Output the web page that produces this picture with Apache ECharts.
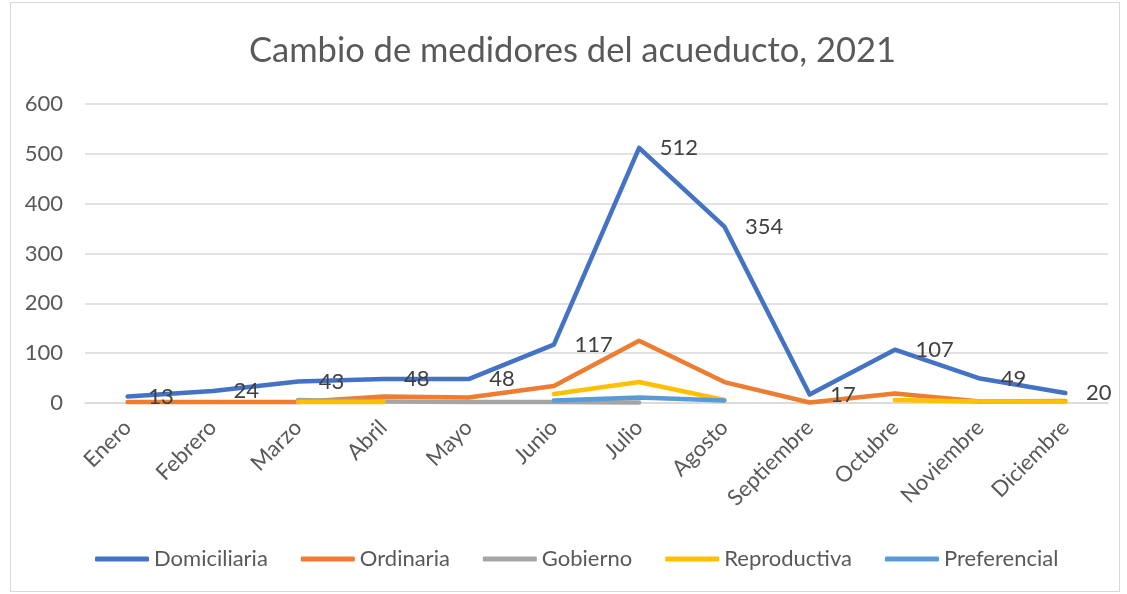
<!DOCTYPE html>
<html>
<head>
<meta charset="utf-8">
<script src="https://cdn.jsdelivr.net/npm/echarts@6/dist/echarts.min.js"></script>
<style>
  html, body { margin: 0; padding: 0; background: #fff; }
  #frame { position: absolute; left: 10px; top: 2px; width: 1110px; height: 590px; border: 1px solid #d9d9d9; box-sizing: border-box; }
  #chart { position: absolute; left: 0; top: 0; width: 1127px; height: 594px; }
</style>
</head>
<body>
<div id="frame"></div>
<div id="chart"></div>
<script>
// Meses del año
const meses = ['Enero', 'Febrero', 'Marzo', 'Abril', 'Mayo', 'Junio', 'Julio', 'Agosto', 'Septiembre', 'Octubre', 'Noviembre', 'Diciembre'];

// Medidores cambiados por tipo de servicio (null = sin registro)
const domiciliaria = [13, 24, 43, 48, 48, 117, 512, 354, 17, 107, 49, 20];
const ordinaria    = [2, 2, 2, 13, 11, 34, 125, 42, 1, 19, 3, 4];
const gobierno     = [null, null, 6, 3, 2, 2, 1, null, null, null, null, null];
const reproductiva = [null, null, 2, 2, null, 18, 42, 6, null, 6, 3, 3];
const preferencial = [null, null, null, null, null, 5, 11, 5, null, null, null, null];

const yTicks = [0, 100, 200, 300, 400, 500, 600];

const FONT = 'Lato, "Open Sans", sans-serif';
const TXT = '#595959';

function serie(nombre, datos, color, etiquetas) {
  return {
    name: nombre,
    type: 'line',
    data: datos,
    symbol: 'circle',
    symbolSize: 1,
    connectNulls: false,
    itemStyle: { color: color },
    lineStyle: { color: color, width: 4.5, cap: 'round', join: 'round' },
    label: etiquetas ? {
      show: true, position: 'right', distance: 20,
      fontFamily: FONT, fontSize: 22, color: '#404040'
    } : { show: false },
    emphasis: { disabled: true },
    animation: false
  };
}

const chart = echarts.init(document.getElementById('chart'), null, { renderer: 'canvas' });
chart.setOption({
  backgroundColor: 'transparent',
  animation: false,
  title: {
    text: 'Cambio de medidores del acueducto, 2021',
    left: 244, top: 28,
    textStyle: { fontFamily: FONT, fontSize: 34.5, fontWeight: 'normal', color: TXT }
  },
  grid: { left: 85, right: 19, top: 104, bottom: 191 },
  xAxis: {
    type: 'category',
    data: meses,
    boundaryGap: true,
    axisLine: { show: true, lineStyle: { color: '#d9d9d9', width: 1.5 } },
    axisTick: { show: false },
    axisLabel: { rotate: 45, margin: 21, fontFamily: FONT, fontSize: 22, color: TXT, interval: 0 }
  },
  yAxis: {
    type: 'value',
    min: yTicks[0], max: yTicks[yTicks.length - 1], interval: 100,
    axisLine: { show: false },
    axisTick: { show: false },
    splitLine: { lineStyle: { color: '#d9d9d9', width: 1.5 } },
    axisLabel: { margin: 22, fontFamily: FONT, fontSize: 22, color: TXT }
  },
  legend: {
    bottom: 19, left: 90,
    icon: 'roundRect', itemWidth: 54, itemHeight: 5, itemGap: 33,
    textStyle: { fontFamily: FONT, fontSize: 22, color: TXT },
    data: ['Domiciliaria', 'Ordinaria', 'Gobierno', 'Reproductiva', 'Preferencial']
  },
  series: [
    serie('Domiciliaria', domiciliaria, '#4472C4', true),
    serie('Ordinaria', ordinaria, '#ED7D31', false),
    serie('Gobierno', gobierno, '#A5A5A5', false),
    serie('Reproductiva', reproductiva, '#FFC000', false),
    serie('Preferencial', preferencial, '#5B9BD5', false)
  ]
});
</script>
</body>
</html>
